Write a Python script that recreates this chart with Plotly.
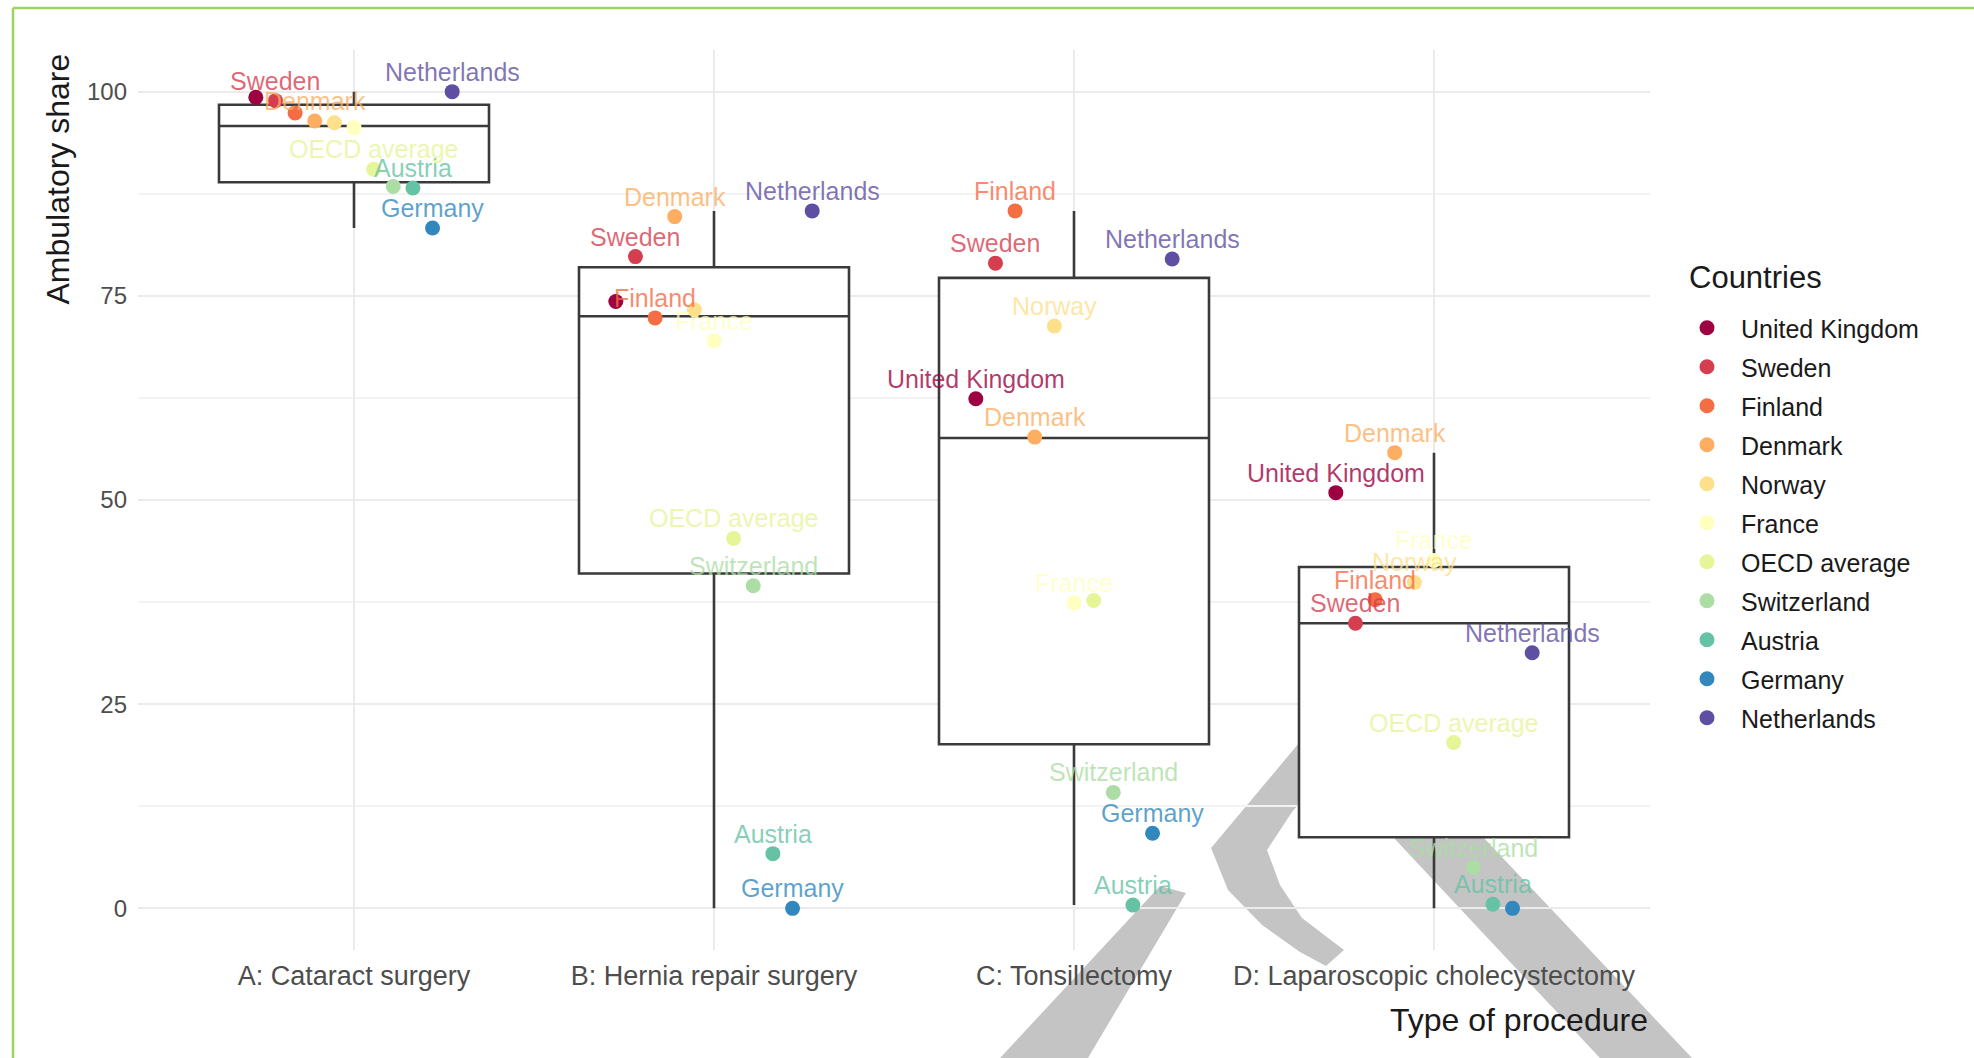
import plotly.graph_objects as go

# Procedures on the x axis (category order)
procedures = [
    "A: Cataract surgery",
    "B: Hernia repair surgery",
    "C: Tonsillectomy",
    "D: Laparoscopic cholecystectomy",
]

# Countries in legend / dodge order, with a Spectral palette
countries = [
    "United Kingdom", "Sweden", "Finland", "Denmark", "Norway", "France",
    "OECD average", "Switzerland", "Austria", "Germany", "Netherlands",
]
country_colors = [
    "#9E0142", "#D53E4F", "#F46D43", "#FDAE61", "#FEE08B", "#FFFFBF",
    "#E6F598", "#ABDDA4", "#66C2A5", "#3288BD", "#5E4FA2",
]

# Ambulatory share (%) per procedure A, B, C, D
united_kingdom = [99.3, 74.3, 62.4, 50.9]
sweden = [98.9, 79.8, 79.0, 34.9]
finland = [97.4, 72.3, 85.4, 37.8]
denmark = [96.4, 84.7, 57.7, 55.8]
norway = [96.2, 73.3, 71.3, 39.9]
france = [95.6, 69.5, 37.4, 42.6]
oecd_average = [90.5, 45.3, 37.7, 20.3]
switzerland = [88.4, 39.5, 14.2, 5.0]
austria = [88.2, 6.7, 0.4, 0.5]
germany = [83.3, 0.0, 9.2, 0.0]
netherlands = [100.0, 85.4, 79.5, 31.3]

series = [
    united_kingdom, sweden, finland, denmark, norway, france,
    oecd_average, switzerland, austria, germany, netherlands,
]

# Which point labels are printed (1) or dropped to avoid overlaps (0)
label_united_kingdom = [0, 0, 1, 1]
label_sweden = [1, 1, 1, 1]
label_finland = [0, 1, 1, 1]
label_denmark = [1, 1, 1, 1]
label_norway = [0, 0, 1, 1]
label_france = [0, 1, 1, 1]
label_oecd_average = [1, 1, 0, 1]
label_switzerland = [0, 1, 1, 1]
label_austria = [1, 1, 1, 1]
label_germany = [1, 1, 1, 0]
label_netherlands = [1, 1, 1, 1]

label_flags = [
    label_united_kingdom, label_sweden, label_finland, label_denmark,
    label_norway, label_france, label_oecd_average, label_switzerland,
    label_austria, label_germany, label_netherlands,
]

# Box-plot summary per procedure
box_lower = [83.3, 0.0, 0.4, 0.0]
box_q1 = [88.9, 41.0, 20.1, 8.7]
box_median = [95.8, 72.5, 57.6, 34.9]
box_q3 = [98.4, 78.5, 77.2, 41.8]
box_upper = [100.0, 85.4, 85.4, 55.8]

y_ticks = [0, 25, 50, 75, 100]

FONT = "Liberation Sans, Arial, sans-serif"
DODGE_WIDTH = 0.6

# plot area in pixels (used for placing decorations in paper units)
W, H = 1974, 1058
L, R, T, B = 138, 324, 50, 108
PW, PH = W - L - R, H - T - B


def paper(px, py):
    return (px - L) / PW, (H - B - py) / PH


def rgba(hex_color, alpha):
    h = hex_color.lstrip("#")
    r, g, b = int(h[0:2], 16), int(h[2:4], 16), int(h[4:6], 16)
    return f"rgba({r},{g},{b},{alpha})"


fig = go.Figure()

# boxes
fig.add_trace(go.Box(
    x=list(range(len(procedures))),
    lowerfence=box_lower, q1=box_q1, median=box_median, q3=box_q3,
    upperfence=box_upper,
    width=0.75, whiskerwidth=0, boxpoints=False,
    fillcolor="white", line=dict(color="#3a3a3a", width=2.6),
    showlegend=False, hoverinfo="skip",
))

# dodged points; labels sit just above each point
n = len(countries)
step = DODGE_WIDTH / n
annotations = []
for i, (name, col, vals, flags) in enumerate(zip(countries, country_colors, series, label_flags)):
    offset = (i - (n - 1) / 2) * step
    xs = [k + offset for k in range(len(procedures))]
    fig.add_trace(go.Scatter(
        x=xs, y=vals, mode="markers", name=name,
        legendgroup=name,
        marker=dict(color=col, size=15, line=dict(width=0)),
        cliponaxis=False,
    ))
    for x, y, f in zip(xs, vals, flags):
        if f:
            annotations.append(dict(
                text=name, x=x, y=y, xref="x", yref="y",
                xanchor="center", yanchor="middle", yshift=20, showarrow=False,
                font=dict(family=FONT, size=25, color=rgba(col, 0.78)),
            ))

# background watermark strokes
watermark_polys = [
    # rising stroke at the bottom
    [(1000, 1058), (1088, 1058), (1186, 893), (1160, 886)],
    # chevron-like curved stroke, partly hidden behind the last box
    [(1345, 688), (1211, 848), (1228, 890), (1262, 925), (1300, 952), (1326, 966),
     (1344, 950), (1302, 918), (1280, 885), (1267, 850), (1292, 812), (1360, 735)],
    # long falling band on the right
    [(1392, 836), (1482, 836), (1692, 1058), (1600, 1058)],
]
shapes = []
for poly in watermark_polys:
    pts = [paper(x, y) for x, y in poly]
    path = "M " + " L ".join(f"{x:.4f},{y:.4f}" for x, y in pts) + " Z"
    shapes.append(dict(type="path", path=path, xref="paper", yref="paper",
                       fillcolor="#C4C4C4", line=dict(width=0), layer="below"))

# thin green frame around the figure
x0, y0 = paper(13, 8)
x1, _ = paper(W + 5, 8)
_, y1 = paper(13, H + 5)
shapes.append(dict(type="line", xref="paper", yref="paper", x0=x0, y0=y0, x1=x1, y1=y0,
                   line=dict(color="#9BD45F", width=2.5)))
shapes.append(dict(type="line", xref="paper", yref="paper", x0=x0, y0=y0, x1=x0, y1=y1,
                   line=dict(color="#9BD45F", width=2.5)))

ax_x, ax_y = paper(57, 52)
tx_x, tx_y = paper(L + PW, 1020)
lg_x, lg_y = paper(1687, 277)

annotations += [
    dict(text="Ambulatory share", xref="paper", yref="paper", x=ax_x, y=ax_y,
         xanchor="center", yanchor="top", textangle=-90, showarrow=False,
         font=dict(size=32, color="#1A1A1A", family=FONT)),
    dict(text="Type of procedure", xref="paper", yref="paper", x=tx_x, y=tx_y,
         xanchor="right", yanchor="middle", showarrow=False,
         font=dict(size=32, color="#1A1A1A", family=FONT)),
    dict(text="Countries", xref="paper", yref="paper", x=lg_x, y=lg_y,
         xanchor="left", yanchor="middle", showarrow=False,
         font=dict(size=31, color="#1A1A1A", family=FONT)),
]

fig.update_layout(
    width=W, height=H,
    margin=dict(l=L, r=R, t=T, b=B, autoexpand=False),
    paper_bgcolor="white", plot_bgcolor="rgba(0,0,0,0)",
    font=dict(family=FONT, color="#4D4D4D"),
    shapes=shapes,
    annotations=annotations,
    showlegend=True,
    legend=dict(
        font=dict(size=25, color="#1A1A1A", family=FONT),
        x=(1673 - L) / PW, xanchor="left",
        y=paper(0, 305)[1], yanchor="top",
        tracegroupgap=3.5, itemwidth=58,
        bgcolor="rgba(0,0,0,0)",
    ),
)

fig.update_xaxes(
    range=[-0.6, len(procedures) - 0.4],
    tickmode="array", tickvals=list(range(len(procedures))), ticktext=procedures,
    tickfont=dict(size=27, color="#4D4D4D", family=FONT),
    showgrid=True, gridcolor="#EBEBEB", gridwidth=2.2,
    zeroline=False, showline=False, ticks="", ticklabelstandoff=7,
)
fig.update_yaxes(
    range=[-5.1, 105.1],
    tickmode="array", tickvals=y_ticks,
    tickfont=dict(size=24, color="#4D4D4D", family=FONT),
    showgrid=True, gridcolor="#EBEBEB", gridwidth=2.2,
    minor=dict(tickmode="array", tickvals=[12.5, 37.5, 62.5, 87.5],
               showgrid=True, gridcolor="#F3F3F3", gridwidth=1.6),
    zeroline=False, showline=False, ticks="", ticklabelstandoff=10,
)

fig.write_html("out.html")
